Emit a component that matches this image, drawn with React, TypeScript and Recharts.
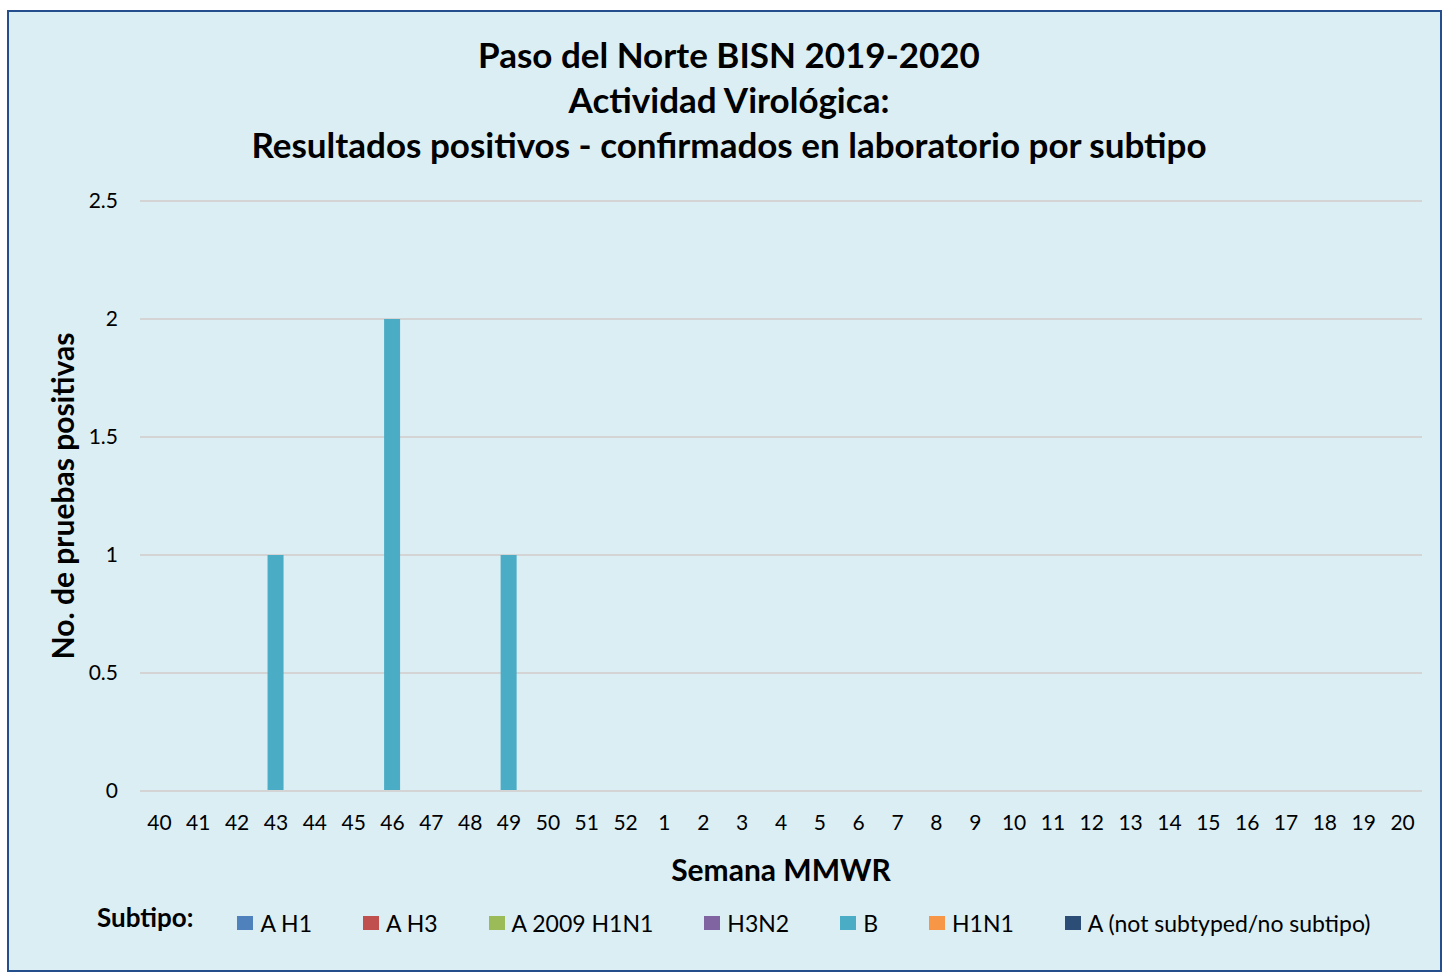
import { BarChart, Bar, XAxis, YAxis, CartesianGrid } from "recharts";

const weeks = [
  "40", "41", "42", "43", "44", "45", "46", "47", "48", "49", "50", "51", "52",
  "1", "2", "3", "4", "5", "6", "7", "8", "9", "10", "11", "12", "13", "14",
  "15", "16", "17", "18", "19", "20",
];

const zeros = weeks.map(() => 0);
const aH1 = zeros;
const aH3 = zeros;
const a2009H1N1 = zeros;
const h3n2 = zeros;
const fluB = [0, 0, 0, 1, 0, 0, 2, 0, 0, 1, 0, 0, 0, 0, 0, 0, 0, 0, 0, 0, 0, 0, 0, 0, 0, 0, 0, 0, 0, 0, 0, 0, 0];
const h1n1 = zeros;
const aNoSubtype = zeros;

const yTicks = [0, 0.5, 1, 1.5, 2, 2.5];

const SERIES = [
  { key: "aH1", name: "A H1", values: aH1, color: "#4F81BD" },
  { key: "aH3", name: "A H3", values: aH3, color: "#C0504D" },
  { key: "a2009", name: "A 2009 H1N1", values: a2009H1N1, color: "#9BBB59" },
  { key: "h3n2", name: "H3N2", values: h3n2, color: "#8064A2" },
  { key: "b", name: "B", values: fluB, color: "#4BACC6" },
  { key: "h1n1", name: "H1N1", values: h1n1, color: "#F79646" },
  { key: "aNs", name: "A (not subtyped/no subtipo)", values: aNoSubtype, color: "#2C4D75" },
];

const data = weeks.map((w, i) => {
  const row: any = { week: w };
  SERIES.forEach((s) => (row[s.key] = s.values[i]));
  return row;
});

const FONT = "Lato, 'Open Sans', sans-serif";

// leyenda en html, debajo del eje
const LegendBox = () => (
  <div
    style={{
      position: "absolute",
      left: 0,
      top: 923,
      transform: "translateY(-50%)",
      display: "flex",
      alignItems: "center",
      fontFamily: FONT,
      fontSize: 23,
      color: "#000",
      whiteSpace: "nowrap",
    }}
  >
    <span style={{ fontWeight: "bold", fontSize: 26, marginLeft: 97, marginRight: 44, position: "relative", top: -6 }}>
      Subtipo:
    </span>
    {SERIES.map((s) => (
      <span key={s.key} style={{ display: "flex", alignItems: "center", marginRight: 51 }}>
        <span style={{ width: 16, height: 14, background: s.color, display: "inline-block", marginRight: 7 }} />
        {s.name}
      </span>
    ))}
  </div>
);

export default function App() {
  return (
    <div style={{ position: "absolute", left: 0, top: 0, width: 1445, height: 976, background: "#fff" }}>
      <div
        style={{
          position: "absolute",
          left: 7,
          top: 10,
          width: 1431,
          height: 958,
          background: "#DBEEF4",
          border: "2px solid #254E8C",
        }}
      />
      <div
        style={{
          position: "absolute",
          left: 0,
          top: 32,
          width: 1458,
          textAlign: "center",
          fontFamily: FONT,
          fontWeight: "bold",
          fontSize: 35,
          lineHeight: "45px",
          color: "#000",
        }}
      >
        <div>Paso del Norte BISN 2019-2020</div>
        <div>Actividad Virológica:</div>
        <div>Resultados positivos - confirmados en laboratorio por subtipo</div>
      </div>
      <div
        style={{
          position: "absolute",
          left: 62,
          top: 496,
          transform: "translate(-50%, -50%) rotate(-90deg)",
          whiteSpace: "nowrap",
          fontFamily: FONT,
          fontWeight: "bold",
          fontSize: 30,
          color: "#000",
        }}
      >
        No. de pruebas positivas
      </div>
      <div
        style={{
          position: "absolute",
          left: 781,
          top: 869,
          transform: "translate(-50%, -50%)",
          whiteSpace: "nowrap",
          fontFamily: FONT,
          fontWeight: "bold",
          fontSize: 30,
          color: "#000",
        }}
      >
        Semana MMWR
      </div>
      <LegendBox />
      <div style={{ position: "absolute", left: 0, top: 0 }}>
        <BarChart
          width={1445}
          height={976}
          data={data}
          margin={{ top: 201, right: 23, left: 80, bottom: 125 }}
          barSize={16}
        >
          <CartesianGrid vertical={false} stroke="#D4D4D4" strokeWidth={2} />
          <XAxis
            dataKey="week"
            interval={0}
            height={60}
            tickLine={false}
            axisLine={{ stroke: "#D4D4D4", strokeWidth: 2 }}
            tickSize={0}
            tickMargin={24}
            tick={{ fill: "#000", fontSize: 21, fontFamily: FONT }}
          />
          <YAxis
            width={60}
            domain={[0, 2.5]}
            ticks={yTicks}
            axisLine={false}
            tickLine={false}
            tickSize={0}
            tickMargin={22}
            tick={{ fill: "#000", fontSize: 21, fontFamily: FONT }}
          />
          {SERIES.map((s) => (
            <Bar key={s.key} dataKey={s.key} name={s.name} stackId="a" fill={s.color} isAnimationActive={false} />
          ))}
        </BarChart>
      </div>
    </div>
  );
}
